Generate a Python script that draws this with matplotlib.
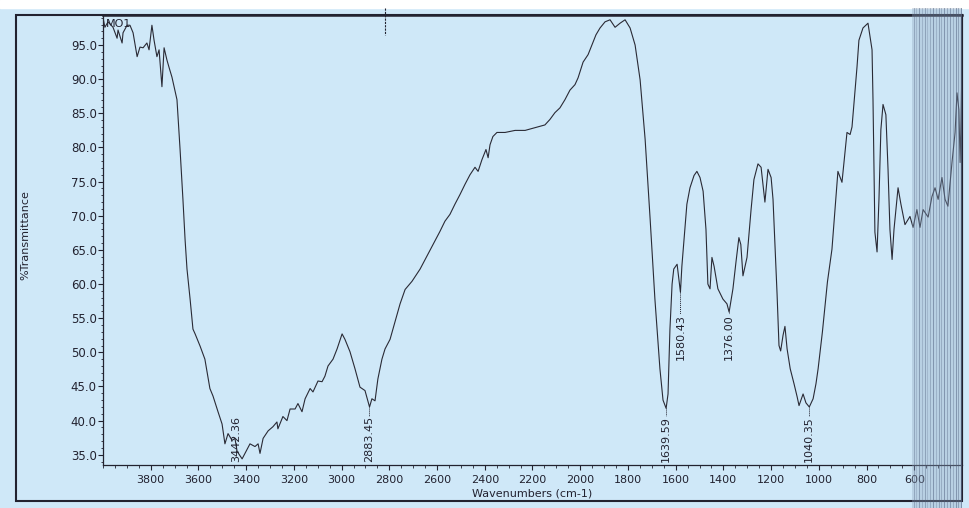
import numpy as np
import matplotlib.pyplot as plt
from matplotlib.patches import Rectangle
from matplotlib.ticker import MultipleLocator, FormatStrFormatter

# traced FT-IR spectrum (wavenumber cm-1, %T)
wavenumber = [4000, 3992, 3979, 3958, 3941, 3937, 3920, 3916, 3899, 3887, 3874, 3857, 3845, 3832,
              3816, 3807, 3795, 3786, 3774, 3765, 3753, 3744, 3732, 3723, 3711, 3702, 3690, 3677,
              3665, 3656, 3648, 3635, 3623, 3614, 3593, 3573, 3552, 3539, 3518, 3501, 3489, 3476,
              3459, 3447, 3438, 3417, 3405, 3384, 3363, 3350, 3342, 3329, 3308, 3288, 3271, 3267,
              3246, 3229, 3216, 3195, 3183, 3166, 3153, 3132, 3120, 3099, 3082, 3070, 3057, 3036,
              3019, 2998, 2986, 2965, 2944, 2923, 2902, 2883, 2873, 2860, 2848, 2831, 2818, 2797,
              2785, 2755, 2734, 2705, 2671, 2638, 2609, 2588, 2567, 2546, 2525, 2504, 2483, 2462,
              2441, 2428, 2412, 2395, 2386, 2378, 2366, 2349, 2315, 2273, 2231, 2190, 2148, 2127,
              2106, 2085, 2064, 2043, 2022, 2009, 1988, 1967, 1951, 1934, 1917, 1896, 1875, 1854,
              1833, 1812, 1791, 1770, 1749, 1728, 1707, 1687, 1666, 1653, 1640, 1632, 1624, 1615,
              1608, 1594, 1590, 1580, 1574, 1565, 1553, 1540, 1523, 1511, 1498, 1485, 1473, 1465,
              1456, 1448, 1439, 1423, 1402, 1385, 1376, 1360, 1347, 1335, 1327, 1318, 1301, 1284,
              1272, 1255, 1242, 1226, 1213, 1200, 1192, 1183, 1175, 1167, 1160, 1150, 1142, 1133,
              1120, 1104, 1091, 1083, 1066, 1054, 1040, 1024, 1012, 1003, 985, 964, 945, 920,
              903, 882, 869, 861, 840, 832, 815, 794, 777, 773, 765, 756, 748, 740, 731, 719, 710,
              702, 693, 685, 668, 656, 639, 618, 605, 589, 576, 563, 542, 526, 513, 500, 484, 471,
              459, 442, 429, 421, 413, 408, 404, 400]
transmittance = [99.0, 97.6, 98.4, 97.6, 96.0, 97.2, 95.3, 96.8, 97.9, 97.9, 96.8, 93.3, 94.7, 94.6,
                 95.3, 94.3, 97.9, 95.7, 93.3, 94.3, 88.9, 94.6, 92.8, 91.7, 90.3, 88.9, 87.0, 79.7,
                 72.4, 66.5, 62.2, 57.8, 53.4, 52.7, 50.9, 49.0, 44.7, 43.6, 41.3, 39.5, 36.6, 38.1,
                 37.1, 37.4, 35.5, 34.4, 35.2, 36.6, 36.2, 36.6, 35.2, 37.4, 38.5, 39.1, 39.8, 38.8,
                 40.6, 40.0, 41.7, 41.7, 42.5, 41.3, 43.2, 44.7, 44.2, 45.8, 45.7, 46.5, 48.0, 49.0,
                 50.5, 52.7, 51.9, 50.1, 47.6, 44.9, 44.4, 42.0, 43.2, 42.9, 46.1, 49.0, 50.5, 51.9,
                 53.4, 57.1, 59.2, 60.4, 62.2, 64.4, 66.3, 67.7, 69.2, 70.2, 71.7, 73.1, 74.6, 76.0,
                 77.1, 76.5, 78.2, 79.7, 78.5, 80.4, 81.6, 82.2, 82.2, 82.5, 82.5, 82.9, 83.3, 84.1,
                 85.1, 85.8, 87.0, 88.4, 89.2, 90.2, 92.5, 93.6, 95.0, 96.5, 97.5, 98.4, 98.7, 97.6,
                 98.2, 98.7, 97.5, 95.0, 89.9, 81.2, 69.5, 57.8, 47.6, 43.0, 41.8, 43.9, 53.4, 60.0,
                 62.2, 62.9, 61.7, 58.8, 62.6, 66.5, 71.7, 74.1, 75.9, 76.5, 75.6, 73.6, 68.0, 60.0,
                 59.3, 63.9, 62.6, 59.3, 57.8, 57.1, 55.9, 59.3, 63.3, 66.8, 65.8, 61.2, 63.9, 70.9,
                 75.3, 77.6, 77.1, 72.0, 76.8, 75.6, 72.4, 65.1, 58.5, 51.0, 50.2, 52.5, 53.8, 50.5,
                 47.6, 45.4, 43.5, 42.2, 43.9, 42.6, 42.0, 43.2, 45.4, 47.6, 53.0, 60.3, 65.1, 76.5,
                 74.9, 82.2, 81.9, 83.0, 91.8, 95.7, 97.5, 98.2, 94.3, 87.0, 67.6, 64.7, 72.4, 82.6,
                 86.3, 84.8, 76.8, 68.0, 63.6, 68.0, 74.1, 71.7, 68.7, 69.9, 68.3, 70.9, 68.3, 70.9,
                 69.8, 72.8, 74.1, 72.4, 75.6, 72.4, 71.4, 77.8, 82.2, 88.0, 85.5, 77.8, 84.1, 92.8]

peak_wn = [3442.36, 2883.45, 1639.59, 1580.43, 1376.00, 1040.35]
peak_labels = ['3442.36', '2883.45', '1639.59', '1580.43', '1376.00', '1040.35']

x_ticks = list(range(3800, 599, -200))
y_ticks = [35, 40, 45, 50, 55, 60, 65, 70, 75, 80, 85, 90, 95]

W, H = 969, 508
bg = '#cfe8f8'
ink = '#222230'


def fx(px):
    return px / W


def fy(py):
    return 1 - py / H


fig = plt.figure(figsize=(W / 100, H / 100), dpi=100, facecolor=bg)

# white strip at top of the scan
fig.add_artist(Rectangle((0, fy(8)), 1, 1 - fy(8), transform=fig.transFigure,
                         color='white', zorder=0))

ax = fig.add_axes([fx(103), fy(465), fx(962) - fx(103), fy(15) - fy(465)])
ax.set_facecolor(bg)

ax.plot(wavenumber, transmittance, color='#2a2a35', lw=0.8, zorder=3)

ax.set_xlim(4000, 400)
ax.set_ylim(33.5, 99.4)
ax.set_xticks(x_ticks)
ax.set_yticks(y_ticks)
ax.xaxis.set_minor_locator(MultipleLocator(50))
ax.yaxis.set_minor_locator(MultipleLocator(1))
ax.yaxis.set_major_formatter(FormatStrFormatter('%.1f'))
ax.tick_params(axis='both', which='major', direction='out', length=3.5, width=0.8,
               color=ink, labelcolor=ink, labelsize=8)
ax.tick_params(axis='y', which='major', pad=1, labelsize=8.5)
ax.tick_params(axis='x', which='major', pad=4)
ax.tick_params(axis='both', which='minor', direction='out', length=1.8, width=0.6, color=ink)
for side in ['left', 'bottom']:
    ax.spines[side].set_color(ink)
    ax.spines[side].set_linewidth(0.9)
ax.spines['top'].set_color(ink)
ax.spines['top'].set_linewidth(1.8)
ax.spines['right'].set_color(ink)
ax.spines['right'].set_linewidth(1.5)

ax.text(3990, 98.1, 'MO1', fontsize=8, color=ink, ha='left', va='center', zorder=4)

# peak labels
wn_up = np.array(wavenumber[::-1], dtype=float)
t_up = np.array(transmittance[::-1], dtype=float)
for wn, lab in zip(peak_wn, peak_labels):
    y_at = np.interp(wn, wn_up, t_up)
    if y_at < 50:
        ax.text(wn, 34.0, lab, rotation=90, ha='center', va='bottom', fontsize=8, color=ink, zorder=4)
        top = 40.7
    else:
        top = 55.6
        ax.text(wn, top, lab, rotation=90, ha='center', va='top', fontsize=8, color=ink, zorder=4)
    if y_at > top:
        ax.plot([wn, wn], [y_at, top], color=ink, lw=0.7, ls=(0, (1, 1)), zorder=3)

fig.text(fx(25), fy(235), '%Transmittance', rotation=90, ha='center', va='center',
         fontsize=8, color=ink)
fig.text(fx(532), fy(494), 'Wavenumbers (cm-1)', ha='center', va='center', fontsize=8, color=ink)

# outer frame of the printout
fig.add_artist(Rectangle((fx(16), fy(501)), fx(962) - fx(16), fy(15) - fy(501),
                         transform=fig.transFigure, fill=False, ec=ink, lw=1.5, zorder=5))
# stray mark crossing the top frame
fig.add_artist(plt.Line2D([fx(385), fx(385)], [fy(8), fy(35)], transform=fig.transFigure,
                          color=ink, lw=0.8, ls=(0, (2, 1)), zorder=5))

# scanner streaks at the right edge
fig.add_artist(Rectangle((fx(912), 0), fx(962) - fx(912), fy(8), transform=fig.transFigure,
                         color='#8ea4bd', alpha=0.35, lw=0, zorder=6))
streak_px = [914, 916, 919, 922, 925, 927, 930, 933, 936, 939, 941, 944, 947, 950, 953, 956, 958, 961]
streak_alpha = [0.35, 0.2, 0.45, 0.25, 0.4, 0.2, 0.3, 0.5, 0.25, 0.4, 0.3, 0.5, 0.35, 0.45, 0.3, 0.5, 0.4, 0.55]
for px, a in zip(streak_px, streak_alpha):
    fig.add_artist(plt.Line2D([fx(px), fx(px)], [0, fy(8)], transform=fig.transFigure,
                              color='#4a5a78', lw=0.7, alpha=a, zorder=6))

fig.savefig('out.png', dpi=100, facecolor=bg)
